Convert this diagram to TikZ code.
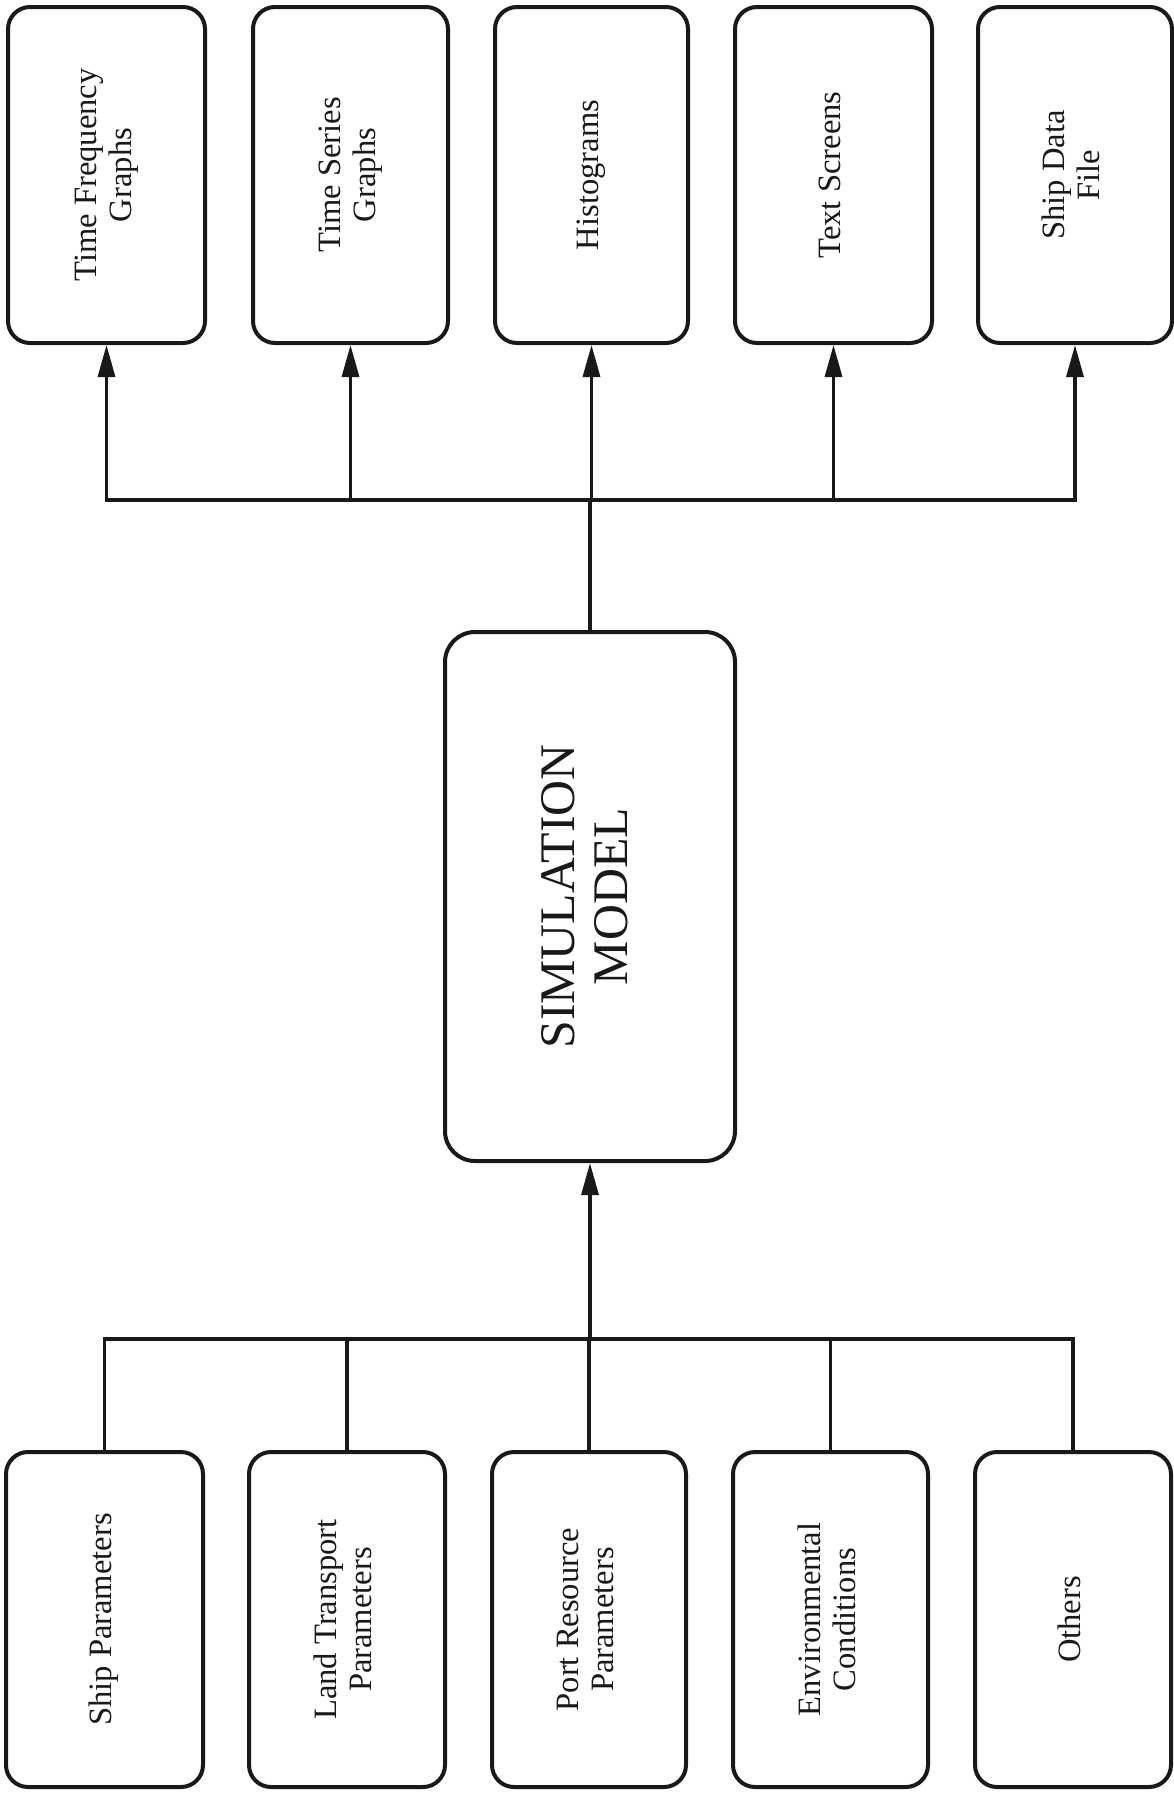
\documentclass[tikz,border=0pt]{standalone}
\usepackage{fontspec}
\setmainfont{Liberation Serif}
\usetikzlibrary{arrows.meta}
\newcommand{\smalltxt}[1]{\rotatebox{90}{\fontsize{32.6}{35}\selectfont\begin{tabular}{@{}c@{}}#1\end{tabular}}}
\newcommand{\bigtxt}[1]{\rotatebox{90}{\fontsize{49.8}{53}\selectfont\begin{tabular}{@{}c@{}}#1\end{tabular}}}
\begin{document}
\begin{tikzpicture}[x=1pt,y=-1pt,
  box/.style={draw=black!90, line width=4pt, rounded corners=22pt, inner sep=0pt,
    minimum height=336pt, minimum width=195pt, fill=white, text=black!90},
  simbox/.style={draw=black!90, line width=4pt, rounded corners=30pt, inner sep=0pt,
    minimum width=290pt, minimum height=529pt, fill=white, text=black!90},
  conn/.style={draw=black!90, line width=3.3pt},
  arr/.style={conn, -{Triangle[length=32pt,width=17pt]}}]
\useasboundingbox (0,0) rectangle (1173,1794);
% output boxes
\node[box, minimum width=197pt] (t1) at (106.5,175) {\smalltxt{Time Frequency\\Graphs}};
\node[box] (t2) at (350.5,175) {\smalltxt{Time Series\\Graphs}};
\node[box, minimum width=193pt] (t3) at (591.5,175) {\smalltxt{Histograms}};
\node[box, minimum width=197pt] (t4) at (833.5,175) {\smalltxt{Text Screens}};
\node[box, minimum width=194pt] (t5) at (1075,175) {\smalltxt{Ship Data\\File}};
% simulation model
\node[simbox] (sim) at (590,896.5) {\bigtxt{SIMULATION\\MODEL}};
% input boxes
\node[box, minimum height=335pt, minimum width=197pt] (b1) at (104.5,1619.5) {\smalltxt{Ship Parameters}};
\node[box, minimum height=335pt, minimum width=196pt] (b2) at (347,1619.5) {\smalltxt{Land Transport\\Parameters}};
\node[box, minimum height=335pt, minimum width=194pt] (b3) at (589,1619.5) {\smalltxt{Port Resource\\Parameters}};
\node[box, minimum height=335pt, minimum width=195pt] (b4) at (830.5,1619.5) {\smalltxt{Environmental\\Conditions}};
\node[box, minimum height=335pt, minimum width=196pt] (b5) at (1073,1619.5) {\smalltxt{Others}};
% buses
\coordinate (tb) at (590,500);
\coordinate (bb) at (590,1339);
\draw[conn, line cap=rect] (t1.south |- tb) -- (t5.south |- tb);
\draw[conn] (sim.north) -- (sim.north |- tb);
\foreach \n in {t1,t2,t3,t4,t5}{
  \draw[arr] (\n.south |- tb) -- (\n.south);
}
\draw[conn, line cap=rect] (b1.north |- bb) -- (b5.north |- bb);
\foreach \n in {b1,b2,b3,b4,b5}{
  \draw[conn] (\n.north) -- (\n.north |- bb);
}
\draw[arr] (sim.south |- bb) -- (sim.south);
\end{tikzpicture}
\end{document}
